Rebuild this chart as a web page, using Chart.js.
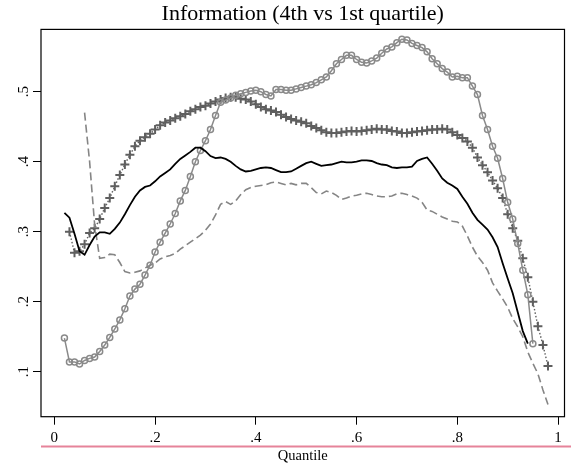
<!DOCTYPE html>
<html lang="en">
<head>
    <meta charset="UTF-8">
    <title>Information (4th vs 1st quartile)</title>
    <script src="https://cdn.jsdelivr.net/npm/chart.js"></script>
    <style>
        html, body { margin: 0; padding: 0; background: #fff; }
        #wrap { width: 571px; height: 465px; }
    </style>
</head>
<body>
<div id="wrap"><canvas id="quantChart" width="571" height="465"></canvas></div>
<script>
// quantile grid
var quantiles = [0.02, 0.03, 0.04, 0.05, 0.06, 0.07, 0.08, 0.09, 0.10, 0.11,
    0.12, 0.13, 0.14, 0.15, 0.16, 0.17, 0.18, 0.19, 0.20, 0.21,
    0.22, 0.23, 0.24, 0.25, 0.26, 0.27, 0.28, 0.29, 0.30, 0.31,
    0.32, 0.33, 0.34, 0.35, 0.36, 0.37, 0.38, 0.39, 0.40, 0.41,
    0.42, 0.43, 0.44, 0.45, 0.46, 0.47, 0.48, 0.49, 0.50, 0.51,
    0.52, 0.53, 0.54, 0.55, 0.56, 0.57, 0.58, 0.59, 0.60, 0.61,
    0.62, 0.63, 0.64, 0.65, 0.66, 0.67, 0.68, 0.69, 0.70, 0.71,
    0.72, 0.73, 0.74, 0.75, 0.76, 0.77, 0.78, 0.79, 0.80, 0.81,
    0.82, 0.83, 0.84, 0.85, 0.86, 0.87, 0.88, 0.89, 0.90, 0.91,
    0.92, 0.93, 0.94, 0.95, 0.96, 0.97, 0.98];

// black solid line
var solidVals = [0.327, 0.320, 0.297, 0.272, 0.267, 0.281, 0.293, 0.299, 0.299, 0.297,
    0.304, 0.313, 0.325, 0.338, 0.350, 0.359, 0.364, 0.366, 0.372, 0.379,
    0.384, 0.389, 0.397, 0.404, 0.409, 0.414, 0.420, 0.420, 0.415, 0.408,
    0.405, 0.406, 0.404, 0.400, 0.394, 0.389, 0.386, 0.387, 0.389, 0.391,
    0.392, 0.391, 0.388, 0.385, 0.385, 0.386, 0.390, 0.394, 0.398, 0.400,
    0.397, 0.394, 0.395, 0.396, 0.398, 0.400, 0.399, 0.399, 0.400, 0.402,
    0.402, 0.401, 0.398, 0.396, 0.395, 0.392, 0.391, 0.392, 0.392, 0.393,
    0.401, 0.404, 0.406, 0.397, 0.387, 0.376, 0.370, 0.366, 0.361, 0.350,
    0.340, 0.327, 0.317, 0.310, 0.303, 0.292, 0.278, 0.255, 0.233, 0.212,
    0.185, 0.158, 0.140, null, null, null, null];

// gray dashed line
var dashVals = [null, null, null, null, 0.470, 0.400, 0.310, 0.262, 0.263, 0.268,
    0.267, 0.256, 0.243, 0.241, 0.242, 0.244, 0.248, 0.252, 0.255, 0.261,
    0.264, 0.266, 0.269, 0.275, 0.280, 0.285, 0.290, 0.295, 0.302, 0.311,
    0.324, 0.339, 0.343, 0.339, 0.344, 0.353, 0.360, 0.363, 0.365, 0.366,
    0.367, 0.370, 0.371, 0.369, 0.367, 0.369, 0.367, 0.369, 0.369, 0.363,
    0.356, 0.354, 0.358, 0.356, 0.352, 0.346, 0.348, 0.351, 0.352, 0.354,
    0.355, 0.353, 0.351, 0.350, 0.350, 0.351, 0.354, 0.355, 0.353, 0.351,
    0.348, 0.342, 0.331, 0.329, 0.325, 0.321, 0.318, 0.315, 0.314, 0.308,
    0.294, 0.278, 0.265, 0.256, 0.245, 0.227, 0.215, 0.204, 0.192, 0.176,
    0.164, 0.150, 0.128, 0.112, 0.097, 0.074, 0.053];

// gray line with hollow circles
var circleVals = [0.148, 0.114, 0.114, 0.111, 0.116, 0.119, 0.121, 0.129, 0.138, 0.149,
    0.161, 0.174, 0.190, 0.208, 0.218, 0.225, 0.238, 0.252, 0.271, 0.285,
    0.298, 0.311, 0.326, 0.344, 0.359, 0.379, 0.400, 0.416, 0.430, 0.446,
    0.466, 0.485, 0.488, 0.491, 0.495, 0.497, 0.499, 0.501, 0.502, 0.500,
    0.496, 0.494, 0.503, 0.503, 0.502, 0.502, 0.504, 0.506, 0.508, 0.510,
    0.513, 0.517, 0.521, 0.530, 0.540, 0.546, 0.552, 0.552, 0.546, 0.542,
    0.541, 0.544, 0.548, 0.555, 0.561, 0.564, 0.570, 0.575, 0.574, 0.569,
    0.566, 0.563, 0.557, 0.547, 0.540, 0.533, 0.528, 0.521, 0.522, 0.520,
    0.520, 0.508, 0.496, 0.466, 0.446, 0.422, 0.405, 0.376, 0.342, 0.318,
    0.283, 0.245, 0.210, 0.140, null, null, null];

// dark gray crosses, dotted line
var crossVals = [null, 0.300, 0.270, 0.272, 0.282, 0.298, 0.305, 0.318, 0.334, 0.348,
    0.365, 0.381, 0.396, 0.410, 0.422, 0.430, 0.435, 0.440, 0.446, 0.452,
    0.456, 0.459, 0.462, 0.465, 0.468, 0.472, 0.475, 0.478, 0.480, 0.483,
    0.486, 0.489, 0.491, 0.492, 0.492, 0.490, 0.489, 0.486, 0.482, 0.478,
    0.475, 0.473, 0.471, 0.467, 0.464, 0.461, 0.459, 0.457, 0.455, 0.451,
    0.448, 0.445, 0.442, 0.441, 0.441, 0.442, 0.443, 0.444, 0.443, 0.444,
    0.445, 0.446, 0.447, 0.446, 0.446, 0.444, 0.443, 0.441, 0.441, 0.442,
    0.443, 0.444, 0.445, 0.446, 0.446, 0.447, 0.446, 0.442, 0.438, 0.434,
    0.429, 0.420, 0.406, 0.395, 0.385, 0.373, 0.362, 0.348, 0.325, 0.305,
    0.287, 0.262, 0.235, 0.200, 0.165, 0.138, 0.108];

var xTicks = [0, 0.2, 0.4, 0.6, 0.8, 1];
var xTickLabels = ['0', '.2', '.4', '.6', '.8', '1'];
var yTicks = [0.1, 0.2, 0.3, 0.4, 0.5];
var yTickLabels = ['.1', '.2', '.3', '.4', '.5'];

var serif = '"Liberation Serif", "Times New Roman", serif';

function toPoints(vals) {
    var pts = [];
    for (var i = 0; i < quantiles.length; i++) {
        if (vals[i] !== null) pts.push({ x: quantiles[i], y: vals[i] });
    }
    return pts;
}

// frame, rotated y labels and the pink rule under the x labels
var stataBits = {
    id: 'stataBits',
    afterDraw: function (chart) {
        var ctx = chart.ctx;
        var a = chart.chartArea;
        var ys = chart.scales.y;
        ctx.save();
        ctx.strokeStyle = '#000';
        ctx.lineWidth = 1.2;
        ctx.strokeRect(a.left, a.top, a.right - a.left, a.bottom - a.top);

        ctx.fillStyle = '#000';
        ctx.font = '15px ' + serif;
        ctx.textAlign = 'center';
        ctx.textBaseline = 'alphabetic';
        yTicks.forEach(function (v, i) {
            var py = ys.getPixelForValue(v);
            ctx.save();
            ctx.translate(28, py);
            ctx.rotate(-Math.PI / 2);
            ctx.fillText(yTickLabels[i], 0, 0);
            ctx.restore();
        });

        ctx.strokeStyle = '#e6839a';
        ctx.lineWidth = 2;
        ctx.beginPath();
        ctx.moveTo(41, 446.5);
        ctx.lineTo(571, 446.5);
        ctx.stroke();
        ctx.restore();
    }
};

var ctx = document.getElementById('quantChart').getContext('2d');
new Chart(ctx, {
    type: 'line',
    data: {
        datasets: [{
            label: 'solid',
            data: toPoints(solidVals),
            borderColor: '#000',
            borderWidth: 1.8,
            pointRadius: 0,
            tension: 0
        }, {
            label: 'dashed',
            data: toPoints(dashVals),
            borderColor: '#858585',
            borderWidth: 1.6,
            borderDash: [8, 4],
            pointRadius: 0,
            tension: 0
        }, {
            label: 'circles',
            data: toPoints(circleVals),
            borderColor: '#8a8a8a',
            borderWidth: 1.5,
            pointStyle: 'circle',
            pointRadius: 3,
            pointBorderWidth: 1.5,
            pointBorderColor: '#8a8a8a',
            pointBackgroundColor: 'rgba(0,0,0,0)',
            tension: 0
        }, {
            label: 'crosses',
            data: toPoints(crossVals),
            borderColor: '#5f5f5f',
            borderWidth: 1.4,
            borderDash: [1.5, 2],
            pointStyle: 'cross',
            pointRadius: 4.5,
            pointBorderWidth: 2,
            pointBorderColor: '#5f5f5f',
            tension: 0
        }]
    },
    options: {
        responsive: false,
        animation: false,
        layout: { padding: { left: 0, right: 1, top: 0, bottom: 0 } },
        plugins: {
            legend: { display: false },
            tooltip: { enabled: false },
            title: {
                display: true,
                fullSize: false,
                text: 'Information (4th vs 1st quartile)',
                color: '#000',
                font: { family: serif, size: 22, weight: 'normal', lineHeight: 1.2 },
                padding: { top: 1, bottom: 2 }
            }
        },
        scales: {
            x: {
                type: 'linear',
                min: -0.0265,
                max: 1.0128,
                afterBuildTicks: function (s) {
                    s.ticks = xTicks.map(function (v) { return { value: v }; });
                },
                afterFit: function (s) { s.height = 48.3; },
                ticks: {
                    autoSkip: false,
                    maxRotation: 0,
                    padding: 4,
                    color: '#000',
                    font: { family: serif, size: 15 },
                    callback: function (v) {
                        var i = xTicks.indexOf(v);
                        return i >= 0 ? xTickLabels[i] : '';
                    }
                },
                grid: {
                    drawOnChartArea: false,
                    drawTicks: true,
                    tickLength: 8,
                    color: '#000',
                    lineWidth: 1
                },
                border: { display: false },
                title: {
                    display: true,
                    text: 'Quantile',
                    color: '#000',
                    font: { family: serif, size: 14.5 },
                    padding: { top: 0, bottom: 0 }
                }
            },
            y: {
                type: 'linear',
                min: 0.0357,
                max: 0.589,
                afterBuildTicks: function (s) {
                    s.ticks = yTicks.map(function (v) { return { value: v }; });
                },
                afterFit: function (s) { s.width = 41; },
                ticks: { display: false },
                grid: {
                    drawOnChartArea: false,
                    drawTicks: true,
                    tickLength: 8,
                    color: '#000',
                    lineWidth: 1
                },
                border: { display: false }
            }
        }
    },
    plugins: [stataBits]
});
</script>
</body>
</html>
